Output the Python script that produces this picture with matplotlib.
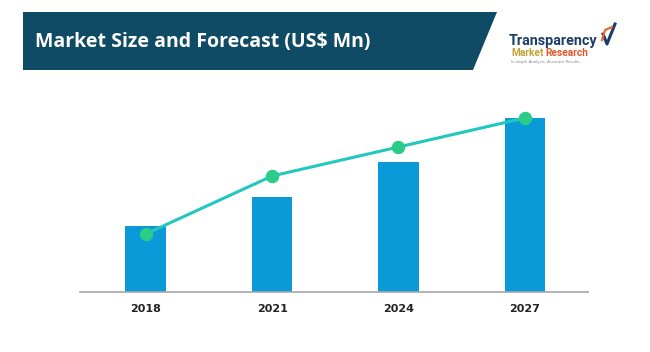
import matplotlib
matplotlib.use("Agg")
import matplotlib.pyplot as plt
from matplotlib.patches import Polygon
from matplotlib.lines import Line2D

# ── data ─────────────────────────────────────────────────────────────────────
years       = ["2018", "2021", "2024", "2027"]
bar_values  = [66, 95, 130, 174]
line_values = [58, 116, 145, 174]

W, H = 650, 352
fig = plt.figure(figsize=(W / 100, H / 100), dpi=100)
fig.patch.set_facecolor("white")


def px(x, y):
    """pixel (top-left origin) -> figure fraction"""
    return x / W, 1 - y / H


# ── title banner ──────────────────────────────────────────────────────────────
banner = Polygon([px(23, 12), px(497, 12), px(473, 70), px(23, 70)],
                 closed=True, transform=fig.transFigure,
                 facecolor="#0f4b64", edgecolor="none")
fig.patches.append(banner)
fig.text(*px(35, 42), "Market Size and Forecast (US\\$ Mn)", color="white",
         fontsize=14, fontweight="bold", family=["Open Sans", "DejaVu Sans"],
         va="center", ha="left")

# ── logo ─────────────────────────────────────────────────────────────────────
logo_font = ["Roboto", "DejaVu Sans"]
fig.text(*px(509, 45), "Transparency", color="#1d3c6a", fontsize=10.4,
         fontweight="bold", family=logo_font, va="baseline", ha="left")
mk = fig.text(*px(511, 56), "Market", color="#c4a23a", fontsize=7.3,
              fontweight="bold", family=logo_font, va="baseline", ha="left")
fig.canvas.draw()
mk_right = mk.get_window_extent().x1
fig.text(mk_right / W + 2 / W, px(0, 56)[1], "Research", color="#e0592b",
         fontsize=7.3, fontweight="bold", family=logo_font,
         va="baseline", ha="left")
fig.text(*px(511, 63), "In-depth Analysis. Accurate Results", color="#8a8a8a",
         fontsize=2.8, va="baseline", ha="left")
# check mark
fig.lines.append(Line2D([px(603, 34)[0], px(607, 44)[0], px(615, 24)[0]],
                        [px(603, 34)[1], px(607, 44)[1], px(615, 24)[1]],
                        transform=fig.transFigure, color="#1d3c6a", lw=2.2))
fig.lines.append(Line2D([px(602, 40)[0], px(605, 30)[0], px(612, 27)[0]],
                        [px(602, 40)[1], px(605, 30)[1], px(612, 27)[1]],
                        transform=fig.transFigure, color="#e8672e", lw=1.6))

# ── chart ────────────────────────────────────────────────────────────────────
left, right = 80, 588
bottom, top = 292, 100
ax = fig.add_axes([left / W, 1 - bottom / H, (right - left) / W, (bottom - top) / H])
x = range(len(years))
ax.bar(x, bar_values, width=0.32, color="#0a9ad7", zorder=2)
ax.plot(x, line_values, color="#22c7be", lw=2.2, zorder=3, clip_on=False)
ax.scatter(x, line_values, s=75, color="#2bcc87", zorder=4, clip_on=False)

ax.set_xlim(-0.52, 3.5)
ax.set_ylim(0, 192)
ax.set_xticks(list(x))
ax.set_xticklabels(years, fontsize=8, fontweight="bold", color="#222222")
ax.tick_params(axis="x", length=0, pad=9)
ax.set_yticks([])
for s in ["top", "right", "left"]:
    ax.spines[s].set_visible(False)
ax.spines["bottom"].set_color("#a6a6a6")
ax.spines["bottom"].set_linewidth(1.2)
ax.patch.set_alpha(0)

fig.savefig("out.png", dpi=100)
